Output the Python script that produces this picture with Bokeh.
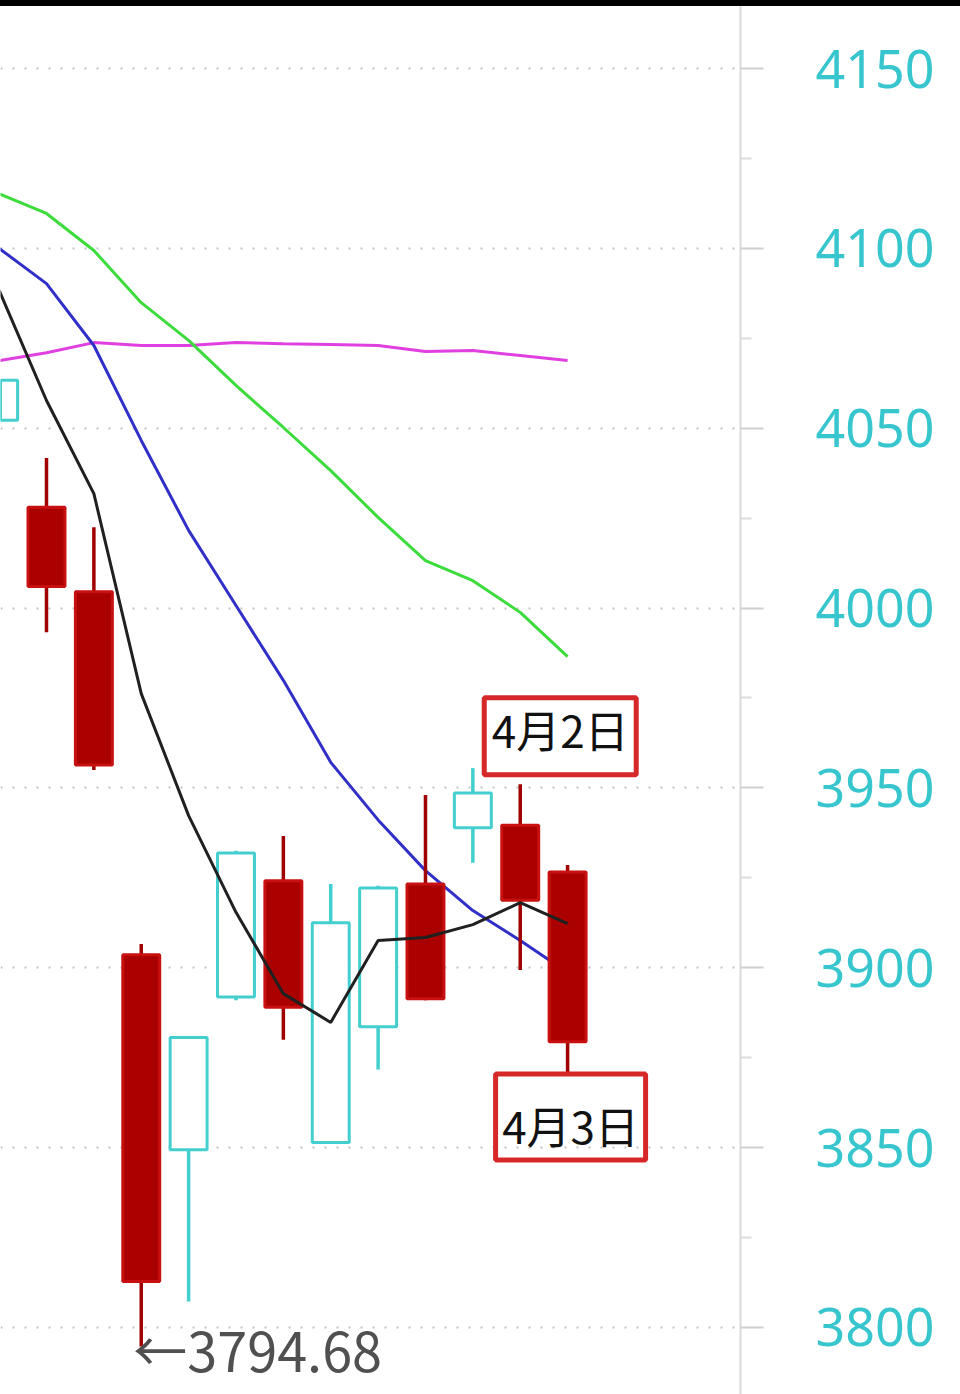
from bokeh.plotting import figure
from bokeh.models import Range1d, FixedTicker, GlobalInlineStyleSheet, ColumnDataSource
from bokeh.core.properties import value
from bokeh.embed import file_html
from bokeh.resources import INLINE

# ---- data ----
idx = list(range(13))
opens  = [4052.2, 4028.0, 4004.5, 3903.6, 3849.4, 3891.9, 3924.2, 3851.4, 3883.6, 3923.3, 3938.9, 3939.6, 3926.6]
closes = [4063.3, 4006.0, 3956.4, 3812.8, 3880.6, 3931.9, 3889.0, 3912.5, 3922.2, 3891.4, 3948.6, 3918.8, 3879.4]
highs  = [4063.3, 4041.7, 4022.5, 3906.6, 3881.0, 3932.5, 3936.6, 3923.3, 3922.8, 3948.0, 3955.5, 3951.0, 3928.6]
lows   = [4052.2, 3993.3, 3955.0, 3794.68, 3807.2, 3891.0, 3880.0, 3851.0, 3871.7, 3891.0, 3929.2, 3899.4, 3870.2]

ma5  = [4088.3, 4057.7, 4031.8, 3976.2, 3942.3, 3915.4, 3892.8, 3884.8, 3907.6, 3908.4, 3912.0, 3918.1, 3912.3]
ma10 = [4100.0, 4090.2, 4073.0, 4046.6, 4021.6, 4000.7, 3979.9, 3957.1, 3941.1, 3927.0, 3915.9, 3907.6, 3898.7]
ma20 = [4115.2, 4109.7, 4099.4, 4084.9, 4074.4, 4061.9, 4050.2, 4038.2, 4025.2, 4013.2, 4007.6, 3998.8, 3986.5]
ma60 = [4068.8, 4071.0, 4073.8, 4073.0, 4073.0, 4073.8, 4073.5, 4073.3, 4073.0, 4071.3, 4071.6, 4070.2, 4068.8]

y_ticks = [3800, 3850, 3900, 3950, 4000, 4050, 4100, 4150]
y_minor = [3775, 3825, 3875, 3925, 3975, 4025, 4075, 4125, 4175]

label_apr2 = "4月2日"
label_apr3 = "4月3日"
low_label = "←3794.68"

# ---- styling constants ----
UP = "#44CFCF"
DOWN_FILL = "#AA0000"
DOWN_LINE = "#C81010"
BOX_RED = "#D62828"
PX_X = 47.36   # pixels per candle
PX_Y = 3.597   # pixels per index point

up = [c >= o for o, c in zip(opens, closes)]
src = ColumnDataSource(dict(
    x=idx,
    top=[max(o, c) for o, c in zip(opens, closes)],
    bottom=[min(o, c) for o, c in zip(opens, closes)],
    high=highs, low=lows,
    fill=["white" if u else DOWN_FILL for u in up],
    line=[UP if u else DOWN_LINE for u in up],
    wick=[UP if u else "#A00000" for u in up],
))

p = figure(width=960, height=1388, output_backend="svg", toolbar_location=None,
           x_range=Range1d(0.029, 15.65), y_range=Range1d(3781.36, 4167.24),
           y_axis_location="right", x_axis_location=None,
           min_border_left=0, min_border_right=220, min_border_top=0, min_border_bottom=0)
p.stylesheets = [GlobalInlineStyleSheet(css="html,body{margin:0 !important;padding:0;} body{border-top:6px solid #000;}")]
p.outline_line_color = None
p.background_fill_color = "white"
p.border_fill_color = "white"
p.xgrid.visible = False
p.ygrid.grid_line_color = "#c4c4c4"
p.ygrid.grid_line_dash = "2 10"
p.ygrid.grid_line_width = 2

ax = p.yaxis[0]
ax.ticker = FixedTicker(ticks=y_ticks, minor_ticks=y_minor)
ax.axis_line_color = "#dadada"
ax.axis_line_width = 2
ax.major_tick_line_color = "#cfcfcf"
ax.major_tick_line_width = 2
ax.major_tick_out = 23
ax.major_tick_in = 0
ax.minor_tick_line_color = "#dcdcdc"
ax.minor_tick_line_width = 2
ax.minor_tick_out = 11
ax.minor_tick_in = 0
ax.major_label_text_color = "#38C6CE"
ax.major_label_text_font = "Noto Sans"
ax.major_label_text_font_size = "52px"
ax.major_label_standoff = 52

# moving averages
p.line(idx, ma60, line_color="#E040E0", line_width=3)
p.line(idx, ma20, line_color="#3CDC3C", line_width=3)
p.line(idx, ma10, line_color="#3030C8", line_width=3)

# candles
p.segment(x0="x", y0="low", x1="x", y1="high", source=src, line_color="wick", line_width=3.5)
p.vbar(x="x", top="top", bottom="bottom", width=0.78, source=src,
       fill_color="fill", line_color="line", line_width=3)

p.line(idx, ma5, line_color="#202020", line_width=3)

# annotation boxes
p.rect(x=[idx[11] + 40 / PX_X], y=[highs[11] + 48 / PX_Y], width=152, height=77,
       width_units="screen", height_units="screen", fill_color=None,
       line_color=BOX_RED, line_width=5)
p.text(x=[idx[11]], y=[highs[11]], text=[label_apr2], x_offset=40, y_offset=-55,
       text_align="center", text_baseline="middle", text_color="#111111",
       text_font=value("Noto Sans CJK SC"), text_font_size="44px")

p.rect(x=[idx[12] + 3 / PX_X], y=[lows[12] - 42 / PX_Y], width=150, height=86,
       width_units="screen", height_units="screen", fill_color=None,
       line_color=BOX_RED, line_width=5)
p.text(x=[idx[12]], y=[lows[12]], text=[label_apr3], x_offset=3, y_offset=50,
       text_align="center", text_baseline="middle", text_color="#111111",
       text_font=value("Noto Sans CJK SC"), text_font_size="44px")

# low marker
p.text(x=[idx[3]], y=[lows[3]], text=[low_label], x_offset=-8, y_offset=2,
       text_align="left", text_baseline="middle", text_color="#505050",
       text_font=value("Noto Sans CJK SC"), text_font_size="54px")

open("out.html", "w").write(file_html(p, INLINE))
